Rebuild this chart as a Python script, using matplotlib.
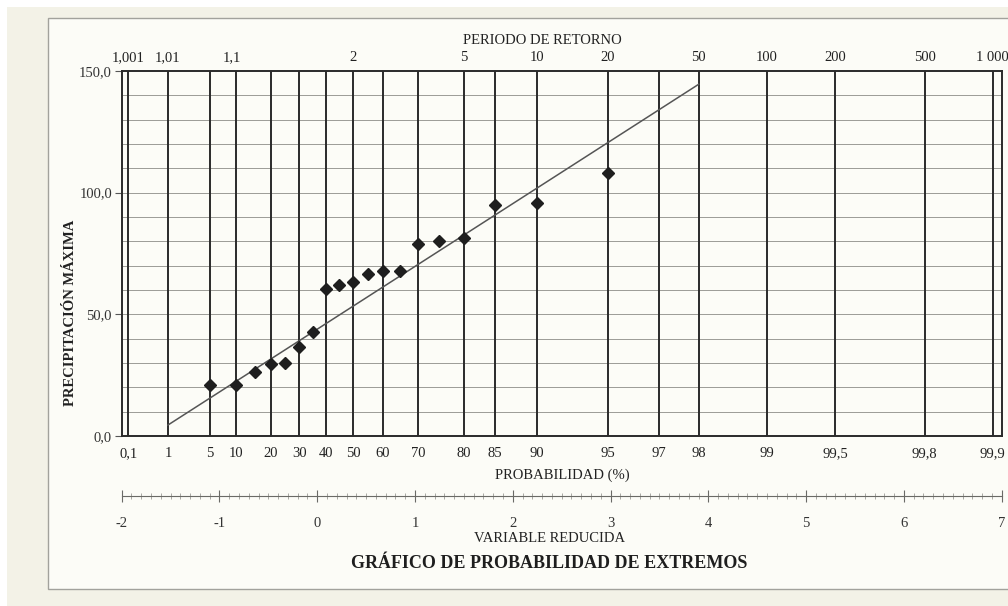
import numpy as np
import matplotlib
matplotlib.use('Agg')
from matplotlib import pyplot as plt
from matplotlib.patches import Rectangle

# observed annual maxima and their plotting probabilities (%)
prob_pct = [5, 10, 15, 20, 25, 30, 35, 40, 45, 50, 55, 60, 65, 70, 75, 80, 85, 90, 95]
precip = [20.8, 20.8, 26.4, 29.6, 30.1, 36.7, 42.7, 60.3, 61.9, 63.4, 66.6, 67.8,
          67.9, 78.8, 80.3, 81.3, 94.9, 95.9, 108.0]

# Gumbel fit: x = u + alpha * y
fit_u = 43.9
fit_alpha = 25.8
fit_range_pct = [1, 98]

# paper grid
grid_pct = [0.1, 1, 5, 10, 20, 30, 40, 50, 60, 70, 80, 85, 90, 95, 97, 98, 99, 99.5, 99.8, 99.9]
grid_pct_labels = ['0,1', '1', '5', '10', '20', '30', '40', '50', '60', '70', '80', '85',
                   '90', '95', '97', '98', '99', '99,5', '99,8', '99,9']
return_periods = [1.001, 1.01, 1.1, 2, 5, 10, 20, 50, 100, 200, 500, 1000]
return_labels = ['1,001', '1,01', '1,1', '2', '5', '10', '20', '50', '100', '200', '500', '1 000']
y_ticks = [0, 50, 100, 150]
y_tick_labels = ['0,0', '50,0', '100,0', '150,0']
reduced_ticks = [-2, -1, 0, 1, 2, 3, 4, 5, 6, 7]


def reduced(p):
    p = np.asarray(p, dtype=float)
    return -np.log(-np.log(p))


plt.rcParams['font.family'] = ['Liberation Serif', 'DejaVu Serif']

W, H = 1008, 606
fig = plt.figure(figsize=(W / 100, H / 100), dpi=100, facecolor='white')

# scanned page background
fig.patches.append(Rectangle((7 / W, 0), 1, 1 - 7 / H, transform=fig.transFigure,
                             facecolor='#f3f2e7', edgecolor='none', zorder=-3))
fig.patches.append(Rectangle((48 / W, 1 - 589 / H), 1, (589 - 18) / H, transform=fig.transFigure,
                             facecolor='#fcfcf7', edgecolor='#a2a29c', lw=1.0, zorder=-2))

left, right = 121.7 / W, 1001.7 / W
bottom, top = 1 - 436 / H, 1 - 71 / H
ax = fig.add_axes([left, bottom, right - left, top - bottom])
ax.set_facecolor('none')
ax.set_xlim(-2, 7)
ax.set_ylim(0, 150)

# horizontal grid every 10
ax.hlines(np.arange(10, 150, 10), -2, 7, color='#9c9c97', lw=0.7, zorder=1)
# probability lines
ax.vlines(reduced(np.array(grid_pct) / 100), 0, 150, color='#2a2a2a', lw=1.4, zorder=2)

for side in ['left', 'right', 'top', 'bottom']:
    ax.spines[side].set_color('#2a2a2a')
    ax.spines[side].set_linewidth(1.4)

# fitted line
fit_y = reduced(np.array(fit_range_pct) / 100)
ax.plot(fit_y, fit_u + fit_alpha * fit_y, color='#555555', lw=1.1, zorder=3)

# observations
ax.plot(reduced(np.array(prob_pct) / 100), precip, linestyle='none', marker='D',
        markersize=6, color='#1e1e1e', zorder=4)

ax.set_xticks(reduced(np.array(grid_pct) / 100))
ax.set_xticklabels(grid_pct_labels, fontsize=10.5, color='#222')
ax.tick_params(axis='x', length=0, pad=8)
ax.set_yticks(y_ticks)
ax.set_yticklabels(y_tick_labels, fontsize=10.5, color='#333')
ax.tick_params(axis='y', direction='out', length=5, width=0.8, color='#555', pad=2)

# return periods on top
ax_top = ax.twiny()
ax_top.set_xlim(-2, 7)
ax_top.set_xticks(reduced(1 - 1 / np.array(return_periods)))
ax_top.set_xticklabels(return_labels, fontsize=10.5, color='#222')
ax_top.tick_params(axis='x', length=0, pad=5)
for side in ['left', 'right', 'top', 'bottom']:
    ax_top.spines[side].set_visible(False)

# reduced variable scale
ax_red = fig.add_axes([left, 1 - 496 / H, right - left, 0.0001])
ax_red.set_facecolor('none')
ax_red.set_xlim(-2, 7)
ax_red.set_yticks([])
for side in ['left', 'right', 'top']:
    ax_red.spines[side].set_visible(False)
ax_red.spines['bottom'].set_color('#6a6a66')
ax_red.spines['bottom'].set_linewidth(0.8)
ax_red.set_xticks(reduced_ticks)
ax_red.set_xticklabels([str(t) for t in reduced_ticks], fontsize=10.5, color='#333')
ax_red.set_xticks(np.arange(-2, 7.01, 0.1), minor=True)
ax_red.tick_params(axis='x', which='major', direction='inout', length=8, width=0.8,
                   color='#6a6a66', pad=11)
ax_red.tick_params(axis='x', which='minor', direction='inout', length=4, width=0.6,
                   color='#9c9c97')

# axis titles
fig.text(542 / W, 1 - 40 / H, 'PERIODO DE RETORNO', ha='center', va='center',
         fontsize=10.5, color='#222')
fig.text(562 / W, 1 - 475 / H, 'PROBABILIDAD (%)', ha='center', va='center',
         fontsize=10.5, color='#222')
fig.text(550 / W, 1 - 538 / H, 'VARIABLE REDUCIDA', ha='center', va='center',
         fontsize=10.5, color='#222')
fig.text(70 / W, 1 - 313 / H, 'PRECIPITACIÓN MÁXIMA', ha='center', va='center',
         rotation=90, fontsize=10.5, fontweight='bold', color='#222')
fig.text(549 / W, 1 - 563 / H, 'GRÁFICO DE PROBABILIDAD DE EXTREMOS', ha='center',
         va='center', fontsize=13, fontweight='bold', color='#1e1e1e')

fig.savefig('out.png', dpi=100, facecolor=fig.get_facecolor())
